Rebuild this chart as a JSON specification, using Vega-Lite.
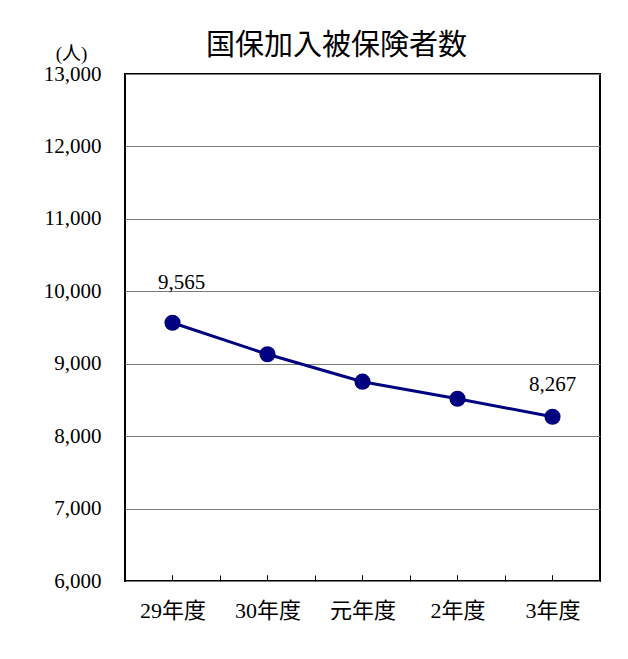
{
  "$schema": "https://vega.github.io/schema/vega-lite/v6.json",
  "width": 475,
  "height": 507,
  "autosize": {"type": "none"},
  "padding": {"left": 125, "top": 74, "right": 28, "bottom": 78},
  "background": "white",
  "title": {
    "text": "国保加入被保険者数",
    "font": "Noto Sans CJK JP",
    "fontSize": 29,
    "fontWeight": "normal",
    "color": "#000",
    "frame": "group",
    "anchor": "middle",
    "dx": -26,
    "dy": 58,
    "baseline": "bottom",
    "offset": 12
  },
  "data": {
    "values": [
      {"year": "29年度", "value": 9565},
      {"year": "30年度", "value": 9130},
      {"year": "元年度", "value": 8752},
      {"year": "2年度", "value": 8517},
      {"year": "3年度", "value": 8267}
    ]
  },
  "config": {
    "view": {"stroke": "#000", "strokeWidth": 2},
    "axis": {"labelColor": "#000", "titleColor": "#000"}
  },
  "encoding": {
    "x": {
      "field": "year",
      "type": "nominal",
      "sort": null,
      "scale": {"type": "band", "paddingInner": 0, "paddingOuter": 0},
      "axis": {
        "title": null,
        "labelAngle": 0,
        "labelFont": "Liberation Serif, Noto Sans CJK JP",
        "labelFontSize": 22,
        "labelPadding": 25,
        "tickBand": "extent",
        "tickSize": -6,
        "tickColor": "#000",
        "domain": false,
        "grid": false
      }
    },
    "y": {
      "field": "value",
      "type": "quantitative",
      "scale": {"domain": [6000, 13000], "nice": false, "zero": false},
      "axis": {
        "values": [6000, 7000, 8000, 9000, 10000, 11000, 12000, 13000],
        "format": ",d",
        "title": "(人)",
        "titleAngle": 0,
        "titleAlign": "center",
        "titleBaseline": "alphabetic",
        "titleX": -54,
        "titleY": -15,
        "titleFont": "Liberation Serif, Noto Sans CJK JP",
        "titleFontSize": 19,
        "titleFontWeight": "normal",
        "labelFont": "Liberation Serif",
        "labelFontSize": 21,
        "labelPadding": 24,
        "ticks": false,
        "domain": false,
        "grid": true,
        "gridColor": "#7a7a7a",
        "gridWidth": 1
      }
    }
  },
  "layer": [
    {
      "mark": {"type": "rule", "color": "#000", "strokeWidth": 1},
      "encoding": {
        "y": {"datum": 6000},
        "y2": {"datum": 6080}
      }
    },
    {
      "mark": {"type": "line", "color": "#000080", "strokeWidth": 3}
    },
    {
      "mark": {"type": "point", "filled": true, "color": "#000080", "opacity": 1, "size": 260, "shape": "circle"}
    },
    {
      "transform": [{"filter": "datum.year === '29年度'"}],
      "mark": {"type": "text", "font": "Liberation Serif", "fontSize": 21, "color": "#000", "dx": 9, "dy": -34, "baseline": "alphabetic", "align": "center"},
      "encoding": {"text": {"field": "value", "type": "quantitative", "format": ",d"}}
    },
    {
      "transform": [{"filter": "datum.year === '3年度'"}],
      "mark": {"type": "text", "font": "Liberation Serif", "fontSize": 21, "color": "#000", "dx": 0, "dy": -26, "baseline": "alphabetic", "align": "center"},
      "encoding": {"text": {"field": "value", "type": "quantitative", "format": ",d"}}
    }
  ]
}
